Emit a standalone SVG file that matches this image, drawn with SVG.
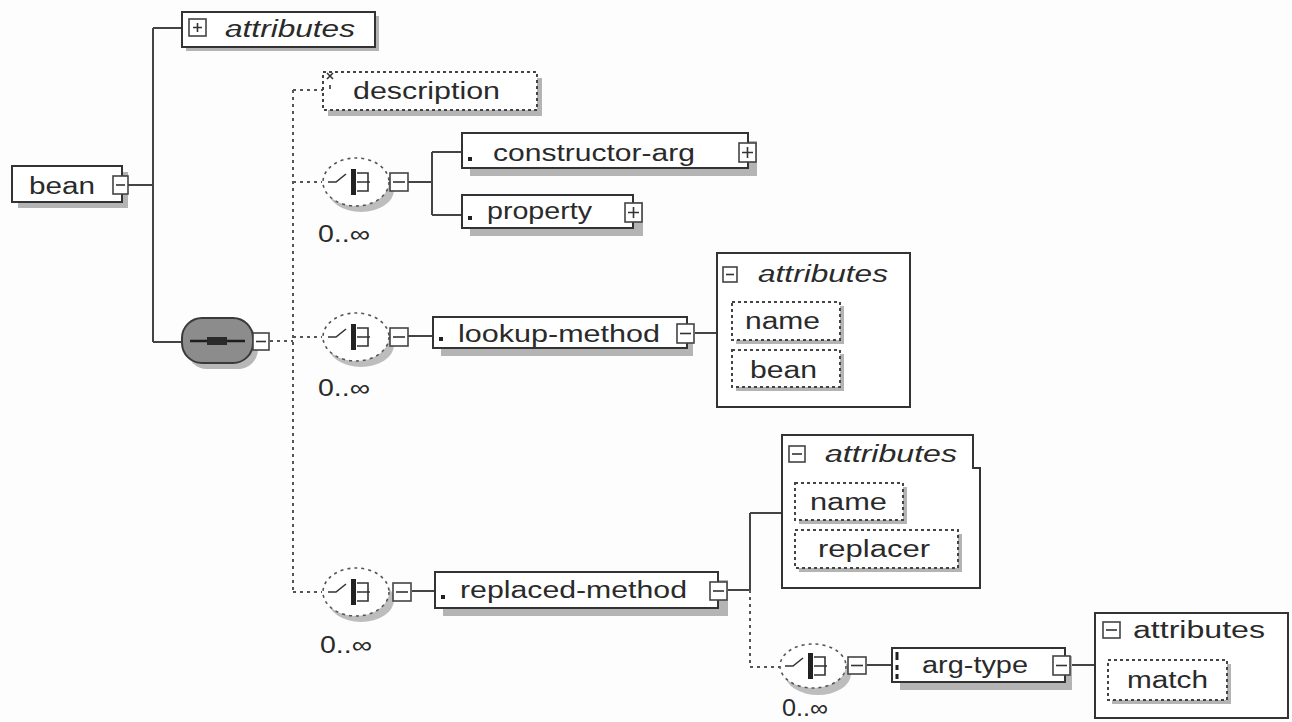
<svg xmlns="http://www.w3.org/2000/svg" width="1292" height="722" viewBox="0 0 1292 722">
<defs>
<style>
.t{font-family:"Liberation Sans",Arial,sans-serif;font-size:23px;fill:#2a2a2a}
.it{font-style:italic}
.box{fill:#fff;stroke:#333;stroke-width:2}
.dbox{fill:#fff;stroke:#444;stroke-width:2;stroke-dasharray:3 3}
.sh{fill:#b4b4b4}
.ic{fill:#fff;stroke:#444;stroke-width:1.6}
.icl{stroke:#333;stroke-width:1.6;fill:none}
.ln{stroke:#444;stroke-width:2;fill:none}
.dl{stroke:#555;stroke-width:2;fill:none;stroke-dasharray:3 4}
.ell{fill:#fff;stroke:#555;stroke-width:1.6;stroke-dasharray:3 4}
.esh{fill:#bdbdbd}
.grp{fill:#fff;stroke:#333;stroke-width:2}
.mark{fill:#222}
</style>
<g id="choiceIcon">
<path d="M-28,0 H-20 L-10,-8" class="icl" stroke-width="2"/>
<rect x="-5" y="-13" width="5" height="26" fill="#222"/>
<path d="M1,-9 H12 V9 H1 M1,0 H14" class="icl" stroke-width="2"/>
</g>
</defs>
<rect width="1292" height="722" fill="#fdfdfd"/>

<g id="connectors">
<path class="ln" d="M128,185 H153 M153,28 V342 M153,28 H182 M153,342 H182"/>
<path class="dl" d="M270,341 H293 M293,90 V593 M293,90 H323 M293,182 H322 M293,337 H322 M293,592 H322"/>
<path class="ln" d="M408,182 H432 M432,152 V215 M432,152 H462 M432,215 H462"/>
<path class="ln" d="M408,336 H433"/>
<path class="ln" d="M695,333 H717"/>
<path class="ln" d="M412,591 H435"/>
<path class="ln" d="M728,590 H750 M750,513 V590 M750,513 H782"/>
<path class="dl" d="M750,590 V667 H780"/>
<path class="ln" d="M867,665 H892"/>
<path class="ln" d="M1070,665 H1095"/>
</g>

<g id="node-attributes-top">
<rect class="sh" x="186" y="16" width="193" height="35"/>
<rect class="box" x="182" y="12" width="193" height="35"/>
<rect class="ic" x="189" y="19" width="17" height="17"/>
<path class="icl" d="M193,27.5 H202 M197.5,23 V32"/>
<text class="t it" x="225" y="37" textLength="130" lengthAdjust="spacingAndGlyphs">attributes</text>
</g>

<g id="node-bean">
<rect class="sh" x="18" y="172" width="110" height="36"/>
<rect class="box" x="12" y="166" width="110" height="36"/>
<text class="t" x="29" y="194" textLength="66" lengthAdjust="spacingAndGlyphs">bean</text>
<rect class="ic" x="113" y="176" width="15" height="18"/>
<path class="icl" d="M116,185 H125"/>
</g>

<g id="node-sequence">
<rect x="187" y="324" width="71" height="45" rx="20" fill="#b8b8b8"/>
<rect x="182" y="318" width="71" height="45" rx="20" fill="#8c8c8c" stroke="#3a3a3a" stroke-width="2"/>
<path d="M190,341 H245" stroke="#1e1e1e" stroke-width="2.5"/>
<rect x="207" y="337" width="20" height="8" fill="#2a2a2a"/>
<rect class="ic" x="253" y="333" width="16" height="17"/>
<path class="icl" d="M256,341.5 H266"/>
</g>

<g id="node-description">
<rect class="sh" x="328" y="78" width="214" height="38"/>
<rect class="dbox" x="323" y="72" width="214" height="38"/>
<path class="icl" stroke-width="2" d="M327,73 L333,79 M333,73 L327,79 M330,85 V89"/>
<text class="t" x="353" y="99" textLength="147" lengthAdjust="spacingAndGlyphs">description</text>
</g>

<g id="node-choice1">
<ellipse class="esh" cx="361" cy="190" rx="33" ry="22"/>
<ellipse class="ell" cx="356" cy="182" rx="33" ry="24"/>
<use href="#choiceIcon" x="356" y="182"/>
<rect class="ic" x="390" y="173" width="18" height="18"/>
<path class="icl" d="M393,182 H405"/>
<text class="t" x="318" y="242" font-size="22" textLength="52" lengthAdjust="spacingAndGlyphs">0..∞</text>
</g>

<g id="node-constructor-arg">
<rect class="sh" x="470" y="141" width="287" height="35"/>
<rect class="box" x="462" y="133" width="286" height="35"/>
<rect class="mark" x="468" y="157" width="4" height="4"/>
<text class="t" x="493" y="161" textLength="202" lengthAdjust="spacingAndGlyphs">constructor-arg</text>
<rect class="ic" x="739" y="143" width="17" height="19"/>
<path class="icl" d="M742,152.5 H753 M747.5,147 V158"/>
</g>

<g id="node-property">
<rect class="sh" x="470" y="202" width="173" height="34"/>
<rect class="box" x="462" y="195" width="171" height="33"/>
<rect class="mark" x="468" y="216" width="4" height="4"/>
<text class="t" x="487" y="219" textLength="105" lengthAdjust="spacingAndGlyphs">property</text>
<rect class="ic" x="625" y="203" width="17" height="19"/>
<path class="icl" d="M628,212.5 H639 M633.5,207 V218"/>
</g>

<g id="node-choice2">
<ellipse class="esh" cx="361" cy="345" rx="33" ry="22"/>
<ellipse class="ell" cx="356" cy="337" rx="33" ry="24"/>
<use href="#choiceIcon" x="356" y="337"/>
<rect class="ic" x="390" y="328" width="18" height="18"/>
<path class="icl" d="M393,337 H405"/>
<text class="t" x="318" y="396" font-size="22" textLength="52" lengthAdjust="spacingAndGlyphs">0..∞</text>
</g>

<g id="node-lookup-method">
<rect class="sh" x="441" y="325" width="252" height="31"/>
<rect class="box" x="433" y="317" width="254" height="31"/>
<rect class="mark" x="439" y="337" width="4" height="4"/>
<text class="t" x="458" y="342" textLength="202" lengthAdjust="spacingAndGlyphs">lookup-method</text>
<rect class="ic" x="677" y="324" width="17" height="19"/>
<path class="icl" d="M680,333.5 H691"/>
</g>

<g id="node-attributes-lookup">
<rect class="grp" x="717" y="253" width="193" height="154"/>
<rect class="ic" x="723" y="267" width="14" height="15"/>
<path class="icl" d="M726,274.5 H734"/>
<text class="t it" x="758" y="282" textLength="130" lengthAdjust="spacingAndGlyphs">attributes</text>
<g id="attr-name-1">
<rect class="sh" x="736" y="306" width="108" height="38"/>
<rect class="dbox" x="732" y="302" width="108" height="38"/>
<text class="t" x="745" y="329" textLength="75" lengthAdjust="spacingAndGlyphs">name</text>
</g>
<g id="attr-bean-1">
<rect class="sh" x="736" y="354" width="108" height="37"/>
<rect class="dbox" x="732" y="350" width="108" height="37"/>
<text class="t" x="750" y="378" textLength="67" lengthAdjust="spacingAndGlyphs">bean</text>
</g>
</g>

<g id="node-choice3">
<ellipse class="esh" cx="361" cy="600" rx="33" ry="22"/>
<ellipse class="ell" cx="356" cy="592" rx="33" ry="24"/>
<use href="#choiceIcon" x="356" y="592"/>
<rect class="ic" x="393" y="583" width="18" height="18"/>
<path class="icl" d="M396,592 H408"/>
<text class="t" x="320" y="653" font-size="22" textLength="52" lengthAdjust="spacingAndGlyphs">0..∞</text>
</g>

<g id="node-replaced-method">
<rect class="sh" x="443" y="580" width="285" height="36"/>
<rect class="box" x="435" y="572" width="283" height="36"/>
<rect class="mark" x="441" y="595" width="4" height="4"/>
<text class="t" x="460" y="598" textLength="227" lengthAdjust="spacingAndGlyphs">replaced-method</text>
<rect class="ic" x="710" y="582" width="17" height="18"/>
<path class="icl" d="M713,591 H724"/>
</g>

<g id="node-attributes-replaced">
<path class="grp" d="M782,435 H973 V468 H980 V588 H782 Z"/>
<rect class="ic" x="789" y="446" width="16" height="16"/>
<path class="icl" d="M792,454 H802"/>
<text class="t it" x="825" y="462" textLength="132" lengthAdjust="spacingAndGlyphs">attributes</text>
<g id="attr-name-2">
<rect class="sh" x="799" y="487" width="108" height="37"/>
<rect class="dbox" x="795" y="483" width="108" height="37"/>
<text class="t" x="810" y="510" textLength="77" lengthAdjust="spacingAndGlyphs">name</text>
</g>
<g id="attr-replacer">
<rect class="sh" x="799" y="534" width="163" height="38"/>
<rect class="dbox" x="795" y="530" width="163" height="38"/>
<text class="t" x="818" y="557" textLength="112" lengthAdjust="spacingAndGlyphs">replacer</text>
</g>
</g>

<g id="node-choice4">
<ellipse class="esh" cx="818" cy="674" rx="33" ry="21"/>
<ellipse class="ell" cx="813" cy="666" rx="33" ry="22"/>
<use href="#choiceIcon" x="813" y="666"/>
<rect class="ic" x="848" y="657" width="18" height="17"/>
<path class="icl" d="M851,665.5 H863"/>
<text class="t" x="782" y="716" font-size="19" textLength="46" lengthAdjust="spacingAndGlyphs">0..∞</text>
</g>

<g id="node-arg-type">
<rect class="sh" x="900" y="656" width="172" height="34"/>
<rect class="box" x="892" y="648" width="173" height="34"/>
<path d="M897,652 V660 M897,665 V670 M897,674 V679" stroke="#222" stroke-width="3"/>
<text class="t" x="922" y="673" textLength="106" lengthAdjust="spacingAndGlyphs">arg-type</text>
<rect class="ic" x="1053" y="656" width="17" height="19"/>
<path class="icl" d="M1056,665.5 H1067"/>
</g>

<g id="node-attributes-argtype">
<rect class="grp" x="1095" y="613" width="193" height="105"/>
<rect class="ic" x="1103" y="622" width="17" height="16"/>
<path class="icl" d="M1106,630 H1117"/>
<text class="t" x="1133" y="638" textLength="132" lengthAdjust="spacingAndGlyphs">attributes</text>
<g id="attr-match">
<rect class="sh" x="1112" y="664" width="119" height="40"/>
<rect class="dbox" x="1108" y="660" width="119" height="40"/>
<text class="t" x="1127" y="688" textLength="81" lengthAdjust="spacingAndGlyphs">match</text>
</g>
</g>
</svg>
